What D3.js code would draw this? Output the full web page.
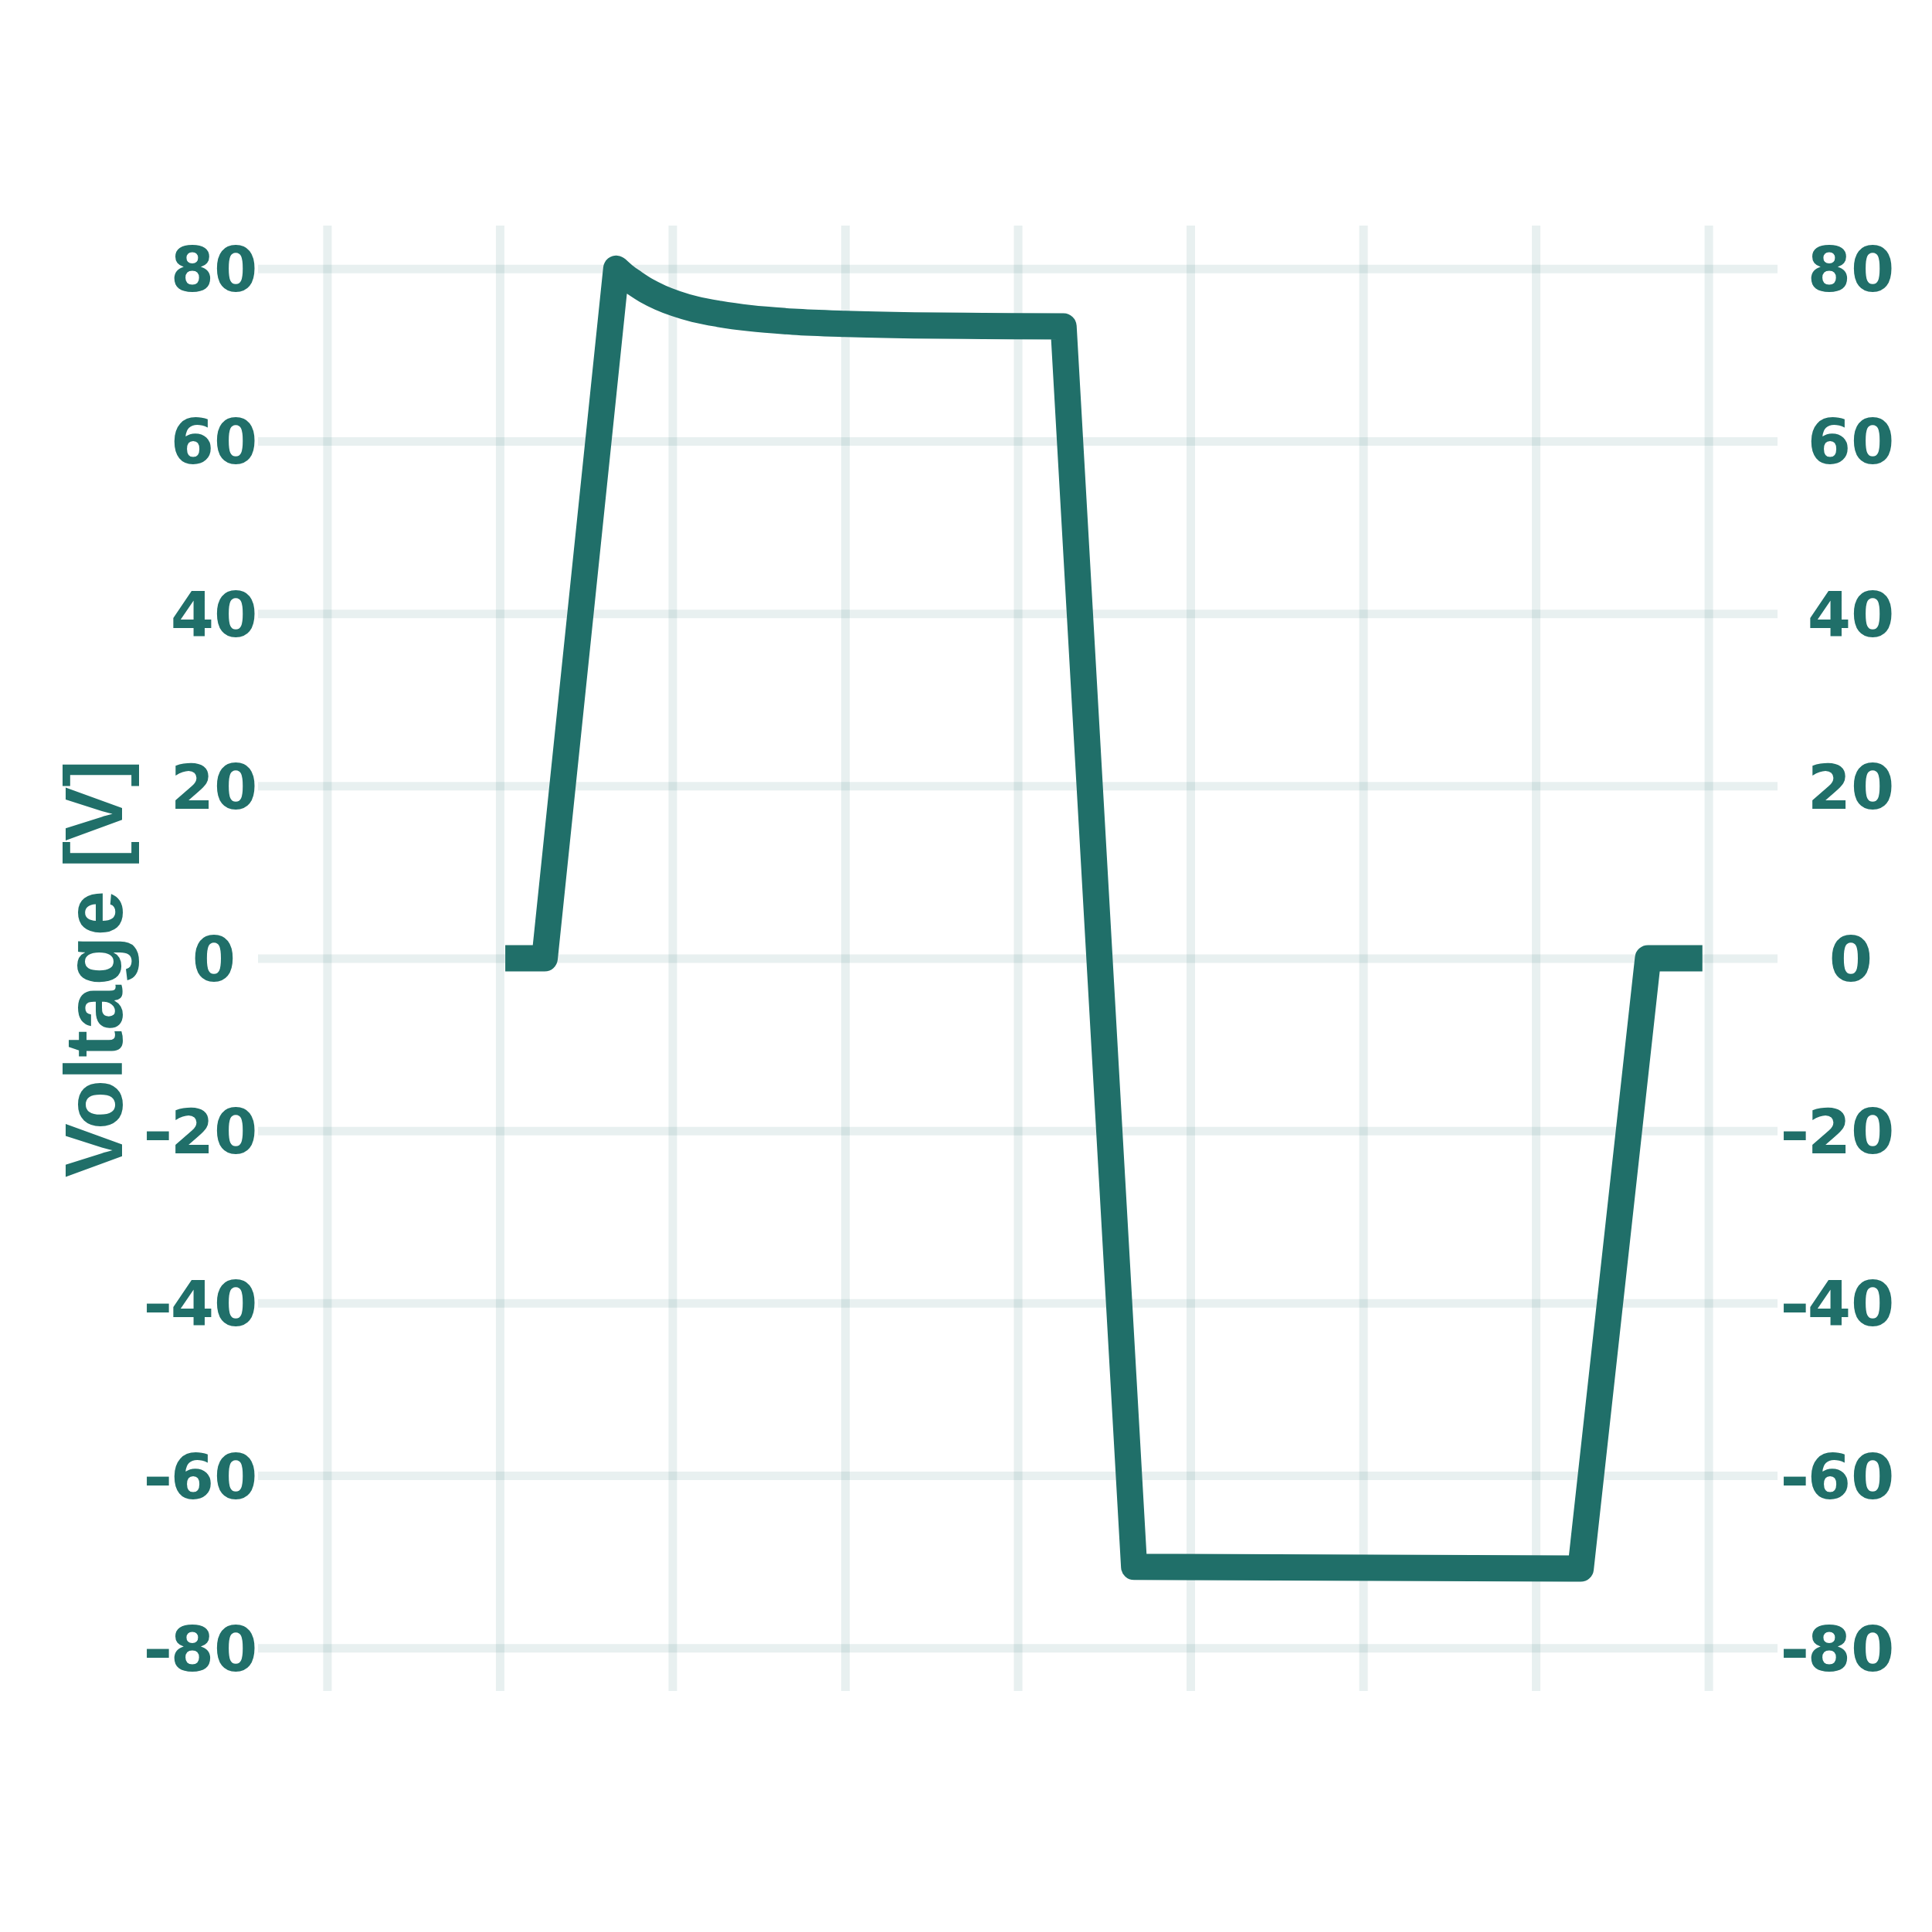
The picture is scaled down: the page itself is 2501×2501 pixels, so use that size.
<!DOCTYPE html>
<html>
<head>
<meta charset="utf-8">
<script src="https://cdn.jsdelivr.net/npm/d3@7"></script>
<style>
  body { margin: 0; background: #ffffff; }
</style>
</head>
<body>
<div id="chart"></div>
<script>
////// DATA

// time axis (no labels shown, only grid)
var time_ticks = [0, 1, 2, 3, 4, 5, 6, 7, 8];

// voltage axis ticks
var volt_ticks = [-80, -60, -40, -20, 0, 20, 40, 60, 80];

// curve
var time_values = [1.032, 1.26, 1.675, 1.72, 1.78, 1.85, 1.93, 2.02, 2.13, 2.27, 2.45, 2.7, 3.0, 3.4, 3.8, 4.265, 4.674, 7.26, 7.65, 7.965];
var volt_values = [0, 0, 80, 79.2, 78.35, 77.45, 76.65, 75.95, 75.3, 74.75, 74.25, 73.85, 73.6, 73.42, 73.35, 73.3, -70.6, -70.8, 0, 0];

// which points belong to the smooth decay after the peak
var decay_start = 2, decay_end = 15;

var y_title = "Voltage [V]";

////// SETUP

var chart_width = 2501, chart_height = 2501;
var plot_left = 334, plot_right = 2301, plot_top = 292, plot_bottom = 2189;
var main_color = "#206f69";
var tick_font = "'DejaVu Sans', sans-serif";

var svg = d3.select("#chart")
  .append("svg")
  .attr("width", chart_width)
  .attr("height", chart_height);

svg.append("rect")
  .attr("width", chart_width)
  .attr("height", chart_height)
  .style("fill", "#ffffff");

var x = d3.scaleLinear().domain([-0.4, 8.4]).range([plot_left, plot_right]);
var y = d3.scaleLinear().domain([-85, 85]).range([plot_bottom, plot_top]);

////// GRID

// horizontal grid lines
svg.append("g")
  .attr("class", "grid-y")
  .attr("transform", "translate(" + plot_left + ",0)")
  .call(d3.axisLeft(y).tickValues(volt_ticks).tickSize(-(plot_right - plot_left)).tickFormat(""))
  .call(function(g) { g.select(".domain").remove(); });

// vertical grid lines
svg.append("g")
  .attr("class", "grid-x")
  .attr("transform", "translate(0," + plot_bottom + ")")
  .call(d3.axisBottom(x).tickValues(time_ticks).tickSize(-(plot_bottom - plot_top)).tickFormat(""))
  .call(function(g) { g.select(".domain").remove(); });

svg.selectAll(".grid-x line, .grid-y line")
  .style("stroke", main_color)
  .style("stroke-opacity", 0.1)
  .style("stroke-width", 11);

////// LINE

var points = time_values.map(function(t, i) { return [t, volt_values[i]]; });

var straight = d3.line()
  .x(function(d) { return x(d[0]); })
  .y(function(d) { return y(d[1]); });

var smooth = d3.line()
  .curve(d3.curveMonotoneX)
  .x(function(d) { return x(d[0]); })
  .y(function(d) { return y(d[1]); });

// straight edges, smooth decay in the middle, glued into one path
var path_d = straight(points.slice(0, decay_start + 1))
  + smooth(points.slice(decay_start, decay_end + 1)).replace(/^M/, "L")
  + straight(points.slice(decay_end)).replace(/^M/, "L");

svg.append("path")
  .attr("d", path_d)
  .style("fill", "none")
  .style("stroke", main_color)
  .style("stroke-width", 34)
  .style("stroke-linejoin", "round")
  .style("stroke-linecap", "butt");

////// LABELS

// tick labels on both sides: digits centred, minus hangs to the left
var renderTickLabels = function(center_x) {
  volt_ticks.forEach(function(v) {
    var digits = svg.append("text")
      .attr("x", center_x)
      .attr("y", y(v))
      .attr("dy", "0.364em")
      .attr("text-anchor", "middle")
      .style("font-family", tick_font)
      .style("font-weight", "bold")
      .style("font-size", "81px")
      .style("fill", main_color)
      .text(Math.abs(v));

    if (v < 0) {
      var w = digits.node().getComputedTextLength();
      svg.append("text")
        .attr("transform", "translate(" + (center_x - w / 2 + 3) + "," + y(v) + ") scale(1.15,1)")
        .attr("dy", "0.364em")
        .attr("text-anchor", "end")
        .style("font-family", tick_font)
        .style("font-weight", "bold")
        .style("font-size", "81px")
        .style("fill", main_color)
        .text("-");
    }
  });
};

renderTickLabels(277);
renderTickLabels(2396);

// y axis title
svg.append("text")
  .attr("transform", "translate(158," + 1254 + ") rotate(-90)")
  .attr("text-anchor", "middle")
  .style("font-family", "'Liberation Sans', Arial, sans-serif")
  .style("font-weight", "bold")
  .style("font-size", "105px")
  .style("fill", main_color)
  .text(y_title);
</script>
</body>
</html>
